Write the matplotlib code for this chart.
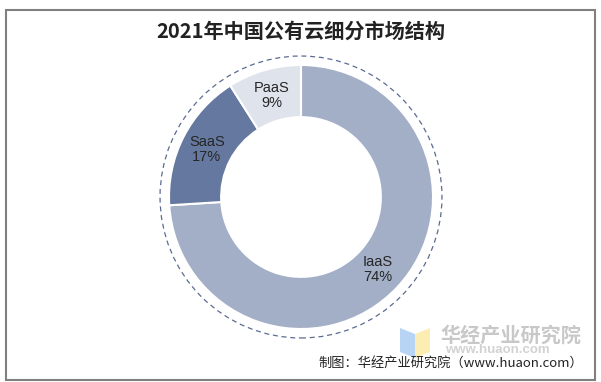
import matplotlib

matplotlib.use("Agg")
import matplotlib.pyplot as plt
import numpy as np
from matplotlib.patches import Circle, Rectangle, Polygon

plt.rcParams["font.family"] = ["Liberation Sans", "Noto Sans CJK SC", "DejaVu Sans"]

categories = ["IaaS", "SaaS", "PaaS"]
shares = [74, 17, 9]
colors = ["#A3AEC7", "#65789F", "#DFE3EC"]
title = "2021年中国公有云细分市场结构"
source = "制图：华经产业研究院（www.huaon.com）"

W, H = 601, 382
fig = plt.figure(figsize=(W / 100, H / 100), dpi=100)

# outer frame
frame = fig.add_axes([0, 0, 1, 1])
frame.set_xlim(0, W)
frame.set_ylim(H, 0)
frame.axis("off")
frame.add_patch(Rectangle((6, 10), 589, 370, fill=False, edgecolor="#808080", linewidth=1.5))

# watermark logo
frame.add_patch(Polygon([(400, 328), (415, 334), (415, 358), (400, 352)], closed=True,
                        facecolor="#B7D4F5", edgecolor="none"))
frame.add_patch(Polygon([(415, 334), (430, 328), (430, 352), (415, 358)], closed=True,
                        facecolor="#FCEDB3", edgecolor="none"))
frame.text(440, 335, "华经产业研究院", fontsize=14.5, fontweight="bold", color="#C8C8C8",
           family=["Noto Sans CJK SC"], va="center", ha="left")
frame.text(445, 350, "www.huaon.com", fontsize=9.5, fontweight="bold", color="#D2D2D2",
           va="center", ha="left")

frame.text(W / 2, 31, title, fontsize=14.5, fontweight="bold", color="#222222",
           family=["Noto Sans CJK SC"], ha="center", va="center")
frame.text(583, 363, source, fontsize=9.5, color="#222222",
           family=["Noto Sans CJK SC", "DejaVu Sans"], ha="right", va="center")

# donut
cx, cy, r_out = 301, 197, 132
half = 150
ax = fig.add_axes([(cx - half) / W, (H - cy - half) / H, 2 * half / W, 2 * half / H])

wedges, _ = ax.pie(shares, colors=colors, startangle=90, counterclock=False, radius=1.0,
                   wedgeprops={"width": 0.395, "edgecolor": "white", "linewidth": 1.5})
ax.set_xlim(-half / r_out, half / r_out)
ax.set_ylim(-half / r_out, half / r_out)
ax.set_aspect("equal")
ax.axis("off")

theta = 90.0
for name, val in zip(categories, shares):
    mid = theta - val / 100 * 360 / 2
    theta -= val / 100 * 360
    x = 0.80 * np.cos(np.radians(mid))
    y = 0.80 * np.sin(np.radians(mid))
    ax.text(x, y, f"{name}\n{val}%", ha="center", va="center", fontsize=10.5,
            color="#262626", linespacing=1.1)

ax.add_patch(Circle((0, 0), 1.068, fill=False, edgecolor="#5B6B92", linewidth=0.9,
                    linestyle=(0, (4, 3))))

fig.savefig("out.png", dpi=100)
